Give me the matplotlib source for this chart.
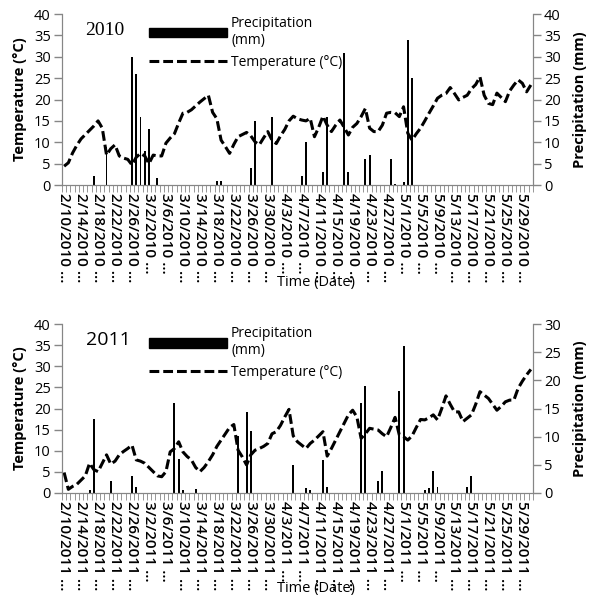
import numpy as np
import pandas as pd
import matplotlib
import matplotlib.pyplot as plt
from matplotlib.lines import Line2D
from matplotlib.patches import Patch

plt.rcParams['font.family'] = ['Open Sans', 'DejaVu Sans']

# daily values, 10 Feb - 31 May
temp_2010 = [4.4, 5.2, 7.5, 9.3, 10.8, 11.8, 12.8, 13.8, 15.0, 13.3,
             7.0, 8.5, 9.4, 6.8, 6.3, 6.0, 4.7, 6.5, 7.4, 6.8,
             5.0, 7.0, 6.8, 6.8, 9.8, 11.0, 12.0, 14.5, 16.8, 17.0,
             17.6, 18.5, 19.4, 20.2, 21.0, 17.0, 15.5, 10.5, 9.0, 7.4,
             9.5, 11.3, 11.8, 12.3, 11.5, 10.1, 9.4, 11.0, 12.5, 10.5,
             9.7, 11.5, 13.0, 15.0, 16.1, 15.5, 15.2, 15.0, 15.6, 11.3,
             13.5, 16.1, 14.0, 12.5, 14.0, 15.2, 13.5, 11.7, 13.5, 14.4,
             16.0, 17.9, 13.3, 12.5, 12.5, 14.0, 16.8, 17.0, 16.9, 16.0,
             18.3, 12.1, 10.5, 12.0, 13.3, 15.0, 16.8, 18.5, 20.3, 21.0,
             21.4, 22.8, 21.4, 19.9, 20.5, 21.0, 22.5, 23.5, 25.3, 21.0,
             19.1, 18.8, 21.5, 20.5, 19.5, 22.0, 23.4, 24.6, 23.8, 21.8,
             23.4]
rain_2010 = {7: 2, 10: 9, 16: 30, 17: 26, 18: 16, 19: 8, 20: 13, 22: 1.7,
             36: 1, 37: 1, 44: 4, 45: 15, 49: 16, 56: 2, 57: 10, 61: 3,
             62: 16, 66: 31, 67: 3, 71: 6, 72: 7, 77: 6, 78: 0.3, 80: 0.8,
             81: 34, 82: 25}

temp_2011 = [4.8, 0.8, 1.5, 2.0, 3.0, 4.0, 7.0, 5.5, 5.0, 7.0,
             9.0, 6.8, 7.5, 9.0, 9.8, 10.5, 11.3, 7.8, 7.5, 7.0,
             6.0, 5.0, 4.0, 3.8, 5.0, 9.7, 10.5, 12.1, 9.7, 8.6,
             7.8, 6.0, 5.0, 6.0, 7.4, 9.0, 11.0, 12.5, 14.0, 15.5,
             16.2, 10.1, 8.5, 6.6, 9.0, 10.1, 10.5, 11.0, 11.7, 14.0,
             14.5, 16.0, 18.0, 19.8, 13.5, 12.1, 11.3, 10.5, 11.7, 12.5,
             13.5, 14.5, 8.7, 10.5, 12.5, 14.5, 16.5, 18.5, 19.6, 18.0,
             12.9, 14.0, 15.3, 15.1, 14.9, 14.0, 13.3, 15.5, 17.9, 13.7,
             13.3, 12.5, 13.5, 15.5, 17.4, 17.3, 17.8, 18.5, 17.3, 20.0,
             23.0, 21.0, 19.2, 19.2, 16.9, 17.7, 18.5, 21.0, 24.0, 23.2,
             22.4, 21.0, 19.6, 20.5, 21.6, 22.0, 22.0, 24.8, 26.5, 28.0,
             29.3]
rain_2011 = {6: 0.5, 7: 13.1, 11: 2, 16: 3, 17: 1, 26: 16, 27: 6, 28: 0.5,
             31: 0.6, 41: 10.1, 43: 14.4, 44: 11, 54: 5, 57: 0.9, 58: 0.5,
             61: 5.9, 62: 1, 70: 16, 71: 19.1, 74: 2, 75: 3.9, 79: 18.1,
             80: 26.2, 85: 0.5, 86: 0.9, 87: 3.9, 88: 1, 95: 1.1, 96: 3}

GREY = '#868686'


def draw_panel(rect, year, temp, rain, rmax, year_font):
    dates = pd.date_range('%d-02-10' % year, '%d-05-31' % year)
    n = len(dates)
    idx = np.arange(n)
    precip = np.zeros(n)
    for k, v in rain.items():
        precip[k] = v

    ax = fig.add_axes(rect)
    ax2 = ax.twinx()
    ax2.bar(idx, precip, width=0.45, color='black')
    ax.plot(idx, temp, color='black', lw=2.2, linestyle=(0, (3.2, 1.3)))
    ax.set_zorder(ax2.get_zorder() + 1)
    ax.patch.set_visible(False)

    ax.set_xlim(-0.5, n - 0.5)
    ax.set_ylim(0, 40)
    ax.set_yticks(np.arange(0, 41, 5))
    ax2.set_ylim(0, rmax)
    ax2.set_yticks(np.arange(0, rmax + 1, 5))

    for a in (ax, ax2):
        a.spines['top'].set_visible(False)
        for s in ('left', 'right', 'bottom'):
            a.spines[s].set_color(GREY)
        a.tick_params(axis='y', colors=GREY, labelcolor='black',
                      labelsize=10.5, length=6, width=1, pad=2)

    labels = ['%d/%d/%d \u2026' % (d.month, d.day, d.year) for d in dates[::4]]
    ax.set_xticks(idx[::4])
    ax.set_xticklabels(labels, rotation=270, fontsize=11, va='top',
                       ha='center', fontweight='semibold')
    ax.set_xticks(np.arange(-0.5, n, 1), minor=True)
    ax.tick_params(axis='x', which='major', length=0, pad=6)
    ax.tick_params(axis='x', which='minor', length=5, color=GREY)

    ax.set_ylabel('Temperature (\u00b0C)', fontsize=10.5, fontweight='bold',
                  labelpad=5)
    ax2.set_ylabel('Precipitation (mm)', fontsize=10.5, fontweight='bold',
                   labelpad=9)
    ax.text(0.54, -0.57, 'Time (Date)', transform=ax.transAxes,
            fontsize=10.5, ha='center', va='center')
    ax.text(0.05, 0.905, str(year), transform=ax.transAxes, va='center',
            ha='left', fontsize=14, family=year_font)

    handles = [Patch(color='black'),
               Line2D([], [], color='black', lw=2.2,
                      linestyle=(0, (3.2, 1.3)))]
    ax.legend(handles, ['Precipitation\n(mm)', 'Temperature (\u00b0C)'],
              loc='upper left', bbox_to_anchor=(0.185, 0.99), frameon=False,
              fontsize=10, handlelength=5.6, handletextpad=0.3,
              labelspacing=0.5, borderpad=0, borderaxespad=0)


fig = plt.figure(figsize=(6, 6.05), dpi=100)
draw_panel([0.1033, 0.6942, 0.785, 0.2826], 2010, temp_2010, rain_2010, 40,
           ['Liberation Serif', 'DejaVu Serif'])
draw_panel([0.1033, 0.1856, 0.785, 0.2783], 2011, temp_2011, rain_2011, 30,
           ['Open Sans', 'DejaVu Sans'])

plt.savefig('out.png', dpi=100)
